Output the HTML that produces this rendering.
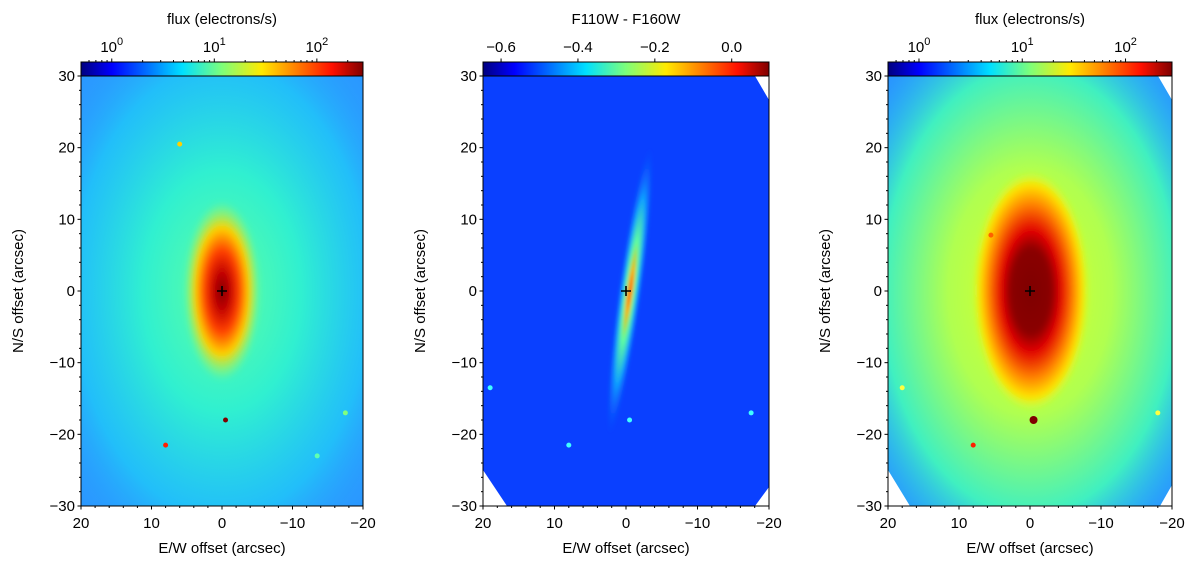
<!DOCTYPE html>
<html><head><meta charset="utf-8"><style>
html,body{margin:0;padding:0;background:#fff;overflow:hidden;width:1200px;height:566px;}
svg{display:block;}
svg text{font-family:"Liberation Sans",sans-serif;fill:#000;}
</style></head><body>
<svg id="fig" width="1200" height="566" xmlns="http://www.w3.org/2000/svg" overflow="hidden">
<defs>
<linearGradient id="jet" x1="0" x2="1" y1="0" y2="0">
<stop offset="0" stop-color="#00007f"/><stop offset="0.11" stop-color="#0000ff"/><stop offset="0.36" stop-color="#00e0ff"/><stop offset="0.5" stop-color="#7dff7a"/><stop offset="0.64" stop-color="#ffea00"/><stop offset="0.89" stop-color="#ff1000"/><stop offset="1" stop-color="#7f0000"/>
</linearGradient>
<radialGradient id="halo1" cx="0.5" cy="0.5" r="0.7"><stop offset="0" stop-color="#60ffa0"/><stop offset="0.4" stop-color="#30f0d0"/><stop offset="0.75" stop-color="#20c8f8" stop-opacity="0.8"/><stop offset="1" stop-color="#2aa0ff" stop-opacity="0"/></radialGradient>
<radialGradient id="core1"><stop offset="0" stop-color="#7f0000"/><stop offset="0.2" stop-color="#c00000"/><stop offset="0.45" stop-color="#ff4000"/><stop offset="0.7" stop-color="#ffd000"/><stop offset="1" stop-color="#b0ff50" stop-opacity="0"/></radialGradient>
<radialGradient id="halo3" cx="0.5" cy="0.5" r="0.72"><stop offset="0" stop-color="#e0ff20"/><stop offset="0.4" stop-color="#b0ff50"/><stop offset="0.72" stop-color="#40f0c0"/><stop offset="1" stop-color="#20b8ff" stop-opacity="0"/></radialGradient>
<radialGradient id="core3"><stop offset="0" stop-color="#7f0000"/><stop offset="0.35" stop-color="#8a0000"/><stop offset="0.5" stop-color="#e00000"/><stop offset="0.72" stop-color="#ff8000"/><stop offset="0.88" stop-color="#ffe000"/><stop offset="1" stop-color="#e8ff20" stop-opacity="0"/></radialGradient>
<radialGradient id="streak"><stop offset="0" stop-color="#ff2000"/><stop offset="0.15" stop-color="#ffb000"/><stop offset="0.35" stop-color="#60ffa0"/><stop offset="0.65" stop-color="#10a0ff"/><stop offset="1" stop-color="#1050ff" stop-opacity="0"/></radialGradient>
<filter id="blur"><feGaussianBlur stdDeviation="3"/></filter>
<filter id="blur2"><feGaussianBlur stdDeviation="1.5"/></filter>
<clipPath id="c1"><rect x="81" y="76" width="282" height="430"/></clipPath>
<clipPath id="c2"><polygon points="483,76 755,76 769,100 769,487 755,506 507,506 483,470"/></clipPath>
<clipPath id="c3"><polygon points="888,76 1158,76 1172,100 1172,485 1160,506 910,506 888,470"/></clipPath>
</defs>
<g id="panel1" clip-path="url(#c1)">
<rect x="81" y="76" width="282" height="430" fill="#2a98ff"/>
<rect x="81" y="76" width="282" height="430" fill="url(#halo1)"/>
<ellipse cx="222" cy="291" rx="38" ry="90" fill="url(#core1)" filter="url(#blur)"/>
</g>
<g id="panel2" clip-path="url(#c2)">
<rect x="483" y="76" width="286" height="430" fill="#0a40ff"/>
<ellipse cx="630" cy="291" rx="12" ry="145" fill="url(#streak)" transform="rotate(8 630 291)" filter="url(#blur2)"/>
</g>
<g id="panel3" clip-path="url(#c3)">
<rect x="888" y="76" width="284" height="430" fill="#2a90ff"/>
<rect x="888" y="76" width="284" height="430" fill="url(#halo3)"/>
<ellipse cx="1031" cy="291" rx="58" ry="120" fill="url(#core3)" filter="url(#blur)"/>
</g>
<g id="overlay"></g>
</svg>
<script>
const NS="http://www.w3.org/2000/svg";
const svg=document.getElementById('overlay');
// data
const xTicks=[20,10,0,-10,-20];
const yTicks=[30,20,10,0,-10,-20,-30];
const xTickLabels=["20","10","0","\u221210","\u221220"];
const yTickLabels=["30","20","10","0","\u221210","\u221220","\u221230"];
const fluxTickExp=[0,1,2];
const fluxRange=[-0.30,2.45];
const colorTicks=[-0.6,-0.4,-0.2,0.0];
const colorTickLabels=["\u22120.6","\u22120.4","\u22120.2","0.0"];
const colorRange=[-0.647,0.097];
const starX1=[0.0,-0.5,8.0,-17.5,6.0,-13.5];
const starY1=[0.0,-18.0,-21.5,-17.0,20.5,-23.0];
const starCol1=["none","#7f0000","#ff2000","#80ff80","#ffd000","#60ffb0"];
const starX3=[-0.5,8.0,-18.0,5.5,18.0];
const starY3=[-18.0,-21.5,-17.0,7.8,-13.5];
const starCol3=["#7f0000","#ff2000","#ffff40","#ff6000","#ffff40"];
const starX2=[-0.5,8.0,-17.5,19.0];
const starY2=[-18.0,-21.5,-17.0,-13.5];
const panels=[
 {x0:81,x1:363,name:'left',cbTitle:'flux (electrons/s)',log:true},
 {x0:483,x1:769,name:'middle',cbTitle:'F110W - F160W',log:false},
 {x0:888,x1:1172,name:'right',cbTitle:'flux (electrons/s)',log:true}];
const Y0=76,Y1=506,FS=15;
function el(t,a,p){const e=document.createElementNS(NS,t);for(const k in a)e.setAttribute(k,a[k]);(p||svg).appendChild(e);return e;}
function yS(v){return Y0+(30-v)/60*(Y1-Y0);}
panels.forEach((P,pi)=>{
 const xS=v=>P.x0+(20-v)/40*(P.x1-P.x0);
 const g=el('g',{});
 
 
 const fr=el('rect',{x:P.x0,y:Y0,width:P.x1-P.x0,height:Y1-Y0,fill:'none',stroke:'#000','stroke-width':1},g);
 
 
 for(let v=-30;v<=30;v+=2){const y=yS(v);el('line',{x1:P.x0,x2:P.x0-(v%10==0?3.5:2),y1:y,y2:y,stroke:'#000'},g);}
 for(let v=-20;v<=20;v+=2){const x=xS(v);el('line',{x1:x,x2:x,y1:Y1,y2:Y1+(v%10==0?3.5:2),stroke:'#000'},g);}
 xTicks.forEach((v,i)=>{const t=el('text',{x:xS(v),y:Y1+22,'font-size':FS,'text-anchor':'middle'},g);t.textContent=xTickLabels[i];
  
  });
 yTicks.forEach((v,i)=>{const t=el('text',{x:P.x0-6,y:yS(v)+5,'font-size':FS,'text-anchor':'end'},g);t.textContent=yTickLabels[i];
  
  });
 const xt=el('text',{x:(P.x0+P.x1)/2,y:553,'font-size':FS,'text-anchor':'middle'},g);xt.textContent='E/W offset (arcsec)';
 
 
 const yx=P.x0-58,ym=(Y0+Y1)/2;
 const yt=el('text',{x:yx,y:ym,'font-size':FS,'text-anchor':'middle',transform:`rotate(-90 ${yx} ${ym})`},g);yt.textContent='N/S offset (arcsec)';
 
 
 const cx=xS(0),cy=yS(0);
 el('path',{d:`M${cx-5},${cy}H${cx+5}M${cx},${cy-5}V${cy+5}`,stroke:'#000','stroke-width':1.6},g);
 const cb=el('rect',{x:P.x0,y:62,width:P.x1-P.x0,height:14,fill:'url(#jet)',stroke:'#000'},g);
 
 
 const ct=el('text',{x:(P.x0+P.x1)/2,y:24,'font-size':FS,'text-anchor':'middle'},g);ct.textContent=P.cbTitle;
 
 
 if(P.log){
  const cS=v=>P.x0+(v-fluxRange[0])/(fluxRange[1]-fluxRange[0])*(P.x1-P.x0);
  for(let d=-1;d<=2;d++)for(let m=1;m<10;m++){const lv=d+Math.log10(m);if(lv<fluxRange[0]||lv>fluxRange[1])continue;const x=cS(lv);el('line',{x1:x,x2:x,y1:62,y2:62-(m==1?3.5:2),stroke:'#000'},g);}
  fluxTickExp.forEach(e=>{const t=el('text',{x:cS(e),y:52,'font-size':FS,'text-anchor':'middle'},g);
   
   
   const a=el('tspan',{},t);a.textContent='10';const b=el('tspan',{dy:-7,'font-size':11},t);b.textContent=String(e);});
 } else {
  const cS=v=>P.x0+(v-colorRange[0])/(colorRange[1]-colorRange[0])*(P.x1-P.x0);
  colorTicks.forEach((v,i)=>{const x=cS(v);el('line',{x1:x,x2:x,y1:62,y2:58.5,stroke:'#000'},g);
   const t=el('text',{x:x,y:52,'font-size':FS,'text-anchor':'middle'},g);t.textContent=colorTickLabels[i];
   
   });
 }
 const SX=pi==0?starX1:pi==2?starX3:starX2;
 const SY=pi==0?starY1:pi==2?starY3:starY2;
 const SC=pi==0?starCol1:pi==2?starCol3:["#40ffff","#40ffff","#40ffff","#40ffff"];
 SX.forEach((v,i)=>{if(SC[i]=='none')return;const s=el('circle',{cx:xS(v),cy:yS(SY[i]),r:(i==0&&pi!=1)?4:2.5,fill:SC[i]},g);
  
  });
});
</script>
</body></html>
